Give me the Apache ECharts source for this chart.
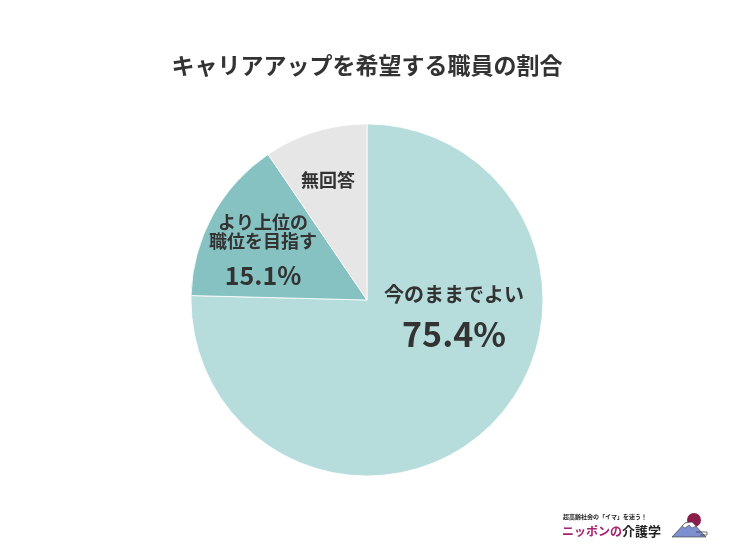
<!DOCTYPE html>
<html>
<head>
<meta charset="utf-8">
<script src="https://cdn.jsdelivr.net/npm/echarts@6/dist/echarts.min.js"></script>
<style>
  html, body { margin: 0; padding: 0; background: #fff; }
  #chart { width: 734px; height: 554px; }
</style>
</head>
<body>
<div id="chart"></div>
<script>
const titleText = 'キャリアアップを希望する職員の割合'
const names = ['今のままでよい', 'より上位の\n職位を目指す', '無回答']
const values = [75.4, 15.1, 9.5]
const colors = ['#b6dcdc', '#86c2c2', '#e6e6e6']
const FONT = '"Noto Sans CJK JP", "Noto Sans", sans-serif'

const myChart = echarts.init(document.getElementById('chart'))

// label spots per slice: [x, name y, pct y, name size, pct size]
const spots = [
  [454, 294, 334, 20, 34],
  [263, 232, 275, 18, 25],
  [328, 180, null, 18, 0]
]

let labels = []
names.forEach((n, i) => {
  const s = spots[i]
  labels.push({
    type: 'text', z: 10,
    style: {
      text: n, x: s[0], y: s[1], align: 'center', verticalAlign: 'middle',
      font: `bold ${s[3]}px ${FONT}`, fill: '#333', lineHeight: s[3] + 1
    }
  })
  if (s[2] !== null) {
    labels.push({
      type: 'text', z: 10,
      style: {
        text: values[i].toFixed(1) + '%', x: s[0], y: s[2], align: 'center', verticalAlign: 'middle',
        font: `bold ${s[4]}px ${FONT}`, fill: '#333'
      }
    })
  }
})

const options = {
  backgroundColor: '#fff',
  title: {
    text: titleText,
    left: 'center',
    top: 49,
    textStyle: { fontFamily: FONT, fontSize: 23, fontWeight: 'bold', color: '#333' }
  },
  series: [
    {
      type: 'pie',
      center: [367, 300],
      radius: [0, 176],
      startAngle: 90,
      clockwise: true,
      animation: false,
      label: { show: false },
      labelLine: { show: false },
      itemStyle: { borderColor: '#fff', borderWidth: 0.8 },
      data: names.map((n, i) => ({ name: n, value: values[i], itemStyle: { color: colors[i] } }))
    }
  ],
  graphic: labels.concat([
    // logo
    {
      type: 'text', z: 10,
      style: { text: '超高齢社会の「イマ」を迷う！', x: 563, y: 517, verticalAlign: 'middle',
        font: `bold 6px ${FONT}`, fill: '#222' }
    },
    {
      type: 'text', z: 10,
      style: { text: 'ニッポンの', x: 562, y: 531, verticalAlign: 'middle',
        font: `bold 12px ${FONT}`, fill: '#a3236d' }
    },
    {
      type: 'text', z: 10,
      style: { text: '介護学', x: 622, y: 531, verticalAlign: 'middle',
        font: `bold 13px ${FONT}`, fill: '#222' }
    },
    {
      type: 'circle', z: 9,
      shape: { cx: 694, cy: 520, r: 7 },
      style: { fill: '#8c1c4a' }
    },
    {
      type: 'polygon', z: 10,
      shape: { points: [[672, 537], [685, 523], [692, 522], [706, 537]] },
      style: { fill: '#7e8fd0', stroke: '#333', lineWidth: 0.6 }
    },
    {
      type: 'polygon', z: 11,
      shape: { points: [[682, 526], [685, 523], [692, 522], [696, 526], [692, 528], [689, 525], [685, 528]] },
      style: { fill: '#fff', stroke: '#333', lineWidth: 0.5 }
    },
    {
      type: 'polyline', z: 11,
      shape: { points: [[696, 532], [707, 532], [707, 535], [700, 535]] },
      style: { fill: 'none', stroke: '#333', lineWidth: 0.7 }
    }
  ])
}
myChart.setOption(options)
</script>
</body>
</html>
